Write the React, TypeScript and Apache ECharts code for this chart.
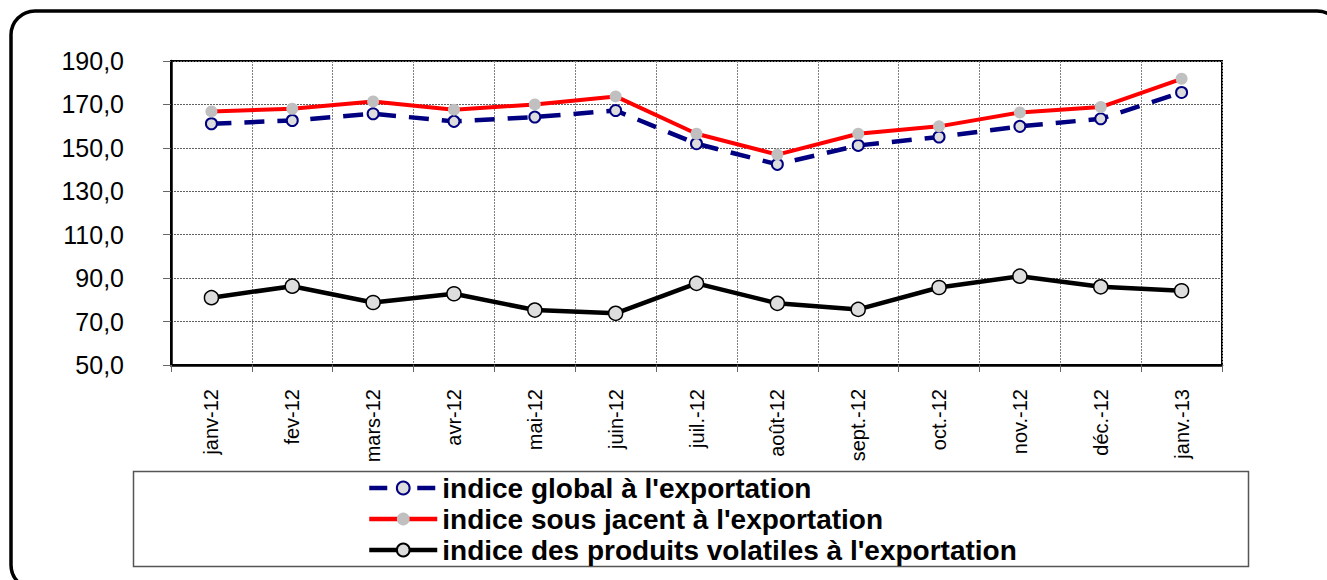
import React, { useEffect, useRef } from "react";
import * as echarts from "echarts";

const categories = [
  "janv-12", "fev-12", "mars-12", "avr-12", "mai-12", "juin-12", "juil.-12",
  "août-12", "sept.-12", "oct.-12", "nov.-12", "déc.-12", "janv.-13",
];

const indiceGlobal = [161.1, 162.6, 165.7, 162.2, 164.2, 167.2, 151.9, 142.4, 151.1, 155.0, 159.9, 163.4, 175.5];
const indiceSousJacent = [166.8, 168.0, 171.4, 167.6, 170.0, 173.7, 156.5, 146.9, 156.5, 159.9, 166.3, 168.8, 181.8];
const indiceVolatiles = [81.0, 86.3, 78.8, 82.8, 75.3, 73.8, 87.6, 78.4, 75.6, 85.7, 90.9, 86.0, 84.2];

const seriesNames = [
  "indice global à l'exportation",
  "indice sous jacent à l'exportation",
  "indice des produits volatiles à l'exportation",
];

const FONT = "'Liberation Sans', Arial, sans-serif";

export default function App() {
  const ref = useRef<HTMLDivElement>(null);

  useEffect(() => {
    if (!ref.current) return;
    const chart = echarts.init(ref.current, null, { renderer: "svg" });
    chart.setOption({
      animation: false,
      backgroundColor: "#ffffff",
      grid: {
        left: 171,
        top: 61,
        width: 1051,
        height: 304,
        show: true,
        borderColor: "#000000",
        borderWidth: 2,
        containLabel: false,
      },
      graphic: [
        {
          type: "rect",
          shape: { x: 11, y: 11, width: 1330, height: 578, r: 24 },
          style: { fill: "none", stroke: "#000000", lineWidth: 3.5 },
          silent: true,
          z: 0,
        },
        {
          type: "rect",
          shape: { x: 133.5, y: 471.5, width: 1115, height: 95 },
          style: { fill: "none", stroke: "#555555", lineWidth: 1.5 },
          silent: true,
          z: 0,
        },
      ],
      legend: {
        orient: "vertical",
        left: 367,
        top: 474,
        itemWidth: 68,
        itemHeight: 16,
        itemGap: 3,
        padding: 0,
        data: [
          { name: seriesNames[0], lineStyle: { width: 4.5, type: [18, 30] } },
          { name: seriesNames[1], lineStyle: { width: 4.5 } },
          { name: seriesNames[2], lineStyle: { width: 4.5 } },
        ],
        textStyle: {
          fontFamily: FONT,
          fontSize: 28,
          fontWeight: "bold",
          color: "#000000",
          lineHeight: 25,
        },
      },
      xAxis: {
        type: "category",
        data: categories,
        boundaryGap: true,
        axisLine: { show: true, lineStyle: { color: "#000000", width: 2.5 } },
        axisTick: { show: true, length: 7, alignWithLabel: false, lineStyle: { color: "#666666", width: 1 } },
        splitLine: { show: true, interval: 0, lineStyle: { color: "#808080", type: [2, 1], width: 1 } },
        axisLabel: {
          interval: 0,
          rotate: 90,
          margin: 24,
          fontFamily: FONT,
          fontSize: 20,
          color: "#000000",
        },
      },
      yAxis: {
        type: "value",
        min: 50,
        max: 190,
        interval: 20,
        axisLine: { show: true, lineStyle: { color: "#000000", width: 2.5 } },
        axisTick: { show: true, length: 8, lineStyle: { color: "#666666", width: 1 } },
        splitLine: { show: true, lineStyle: { color: "#606060", type: [2, 1], width: 1 } },
        axisLabel: {
          margin: 47,
          fontFamily: FONT,
          fontSize: 25,
          color: "#000000",
          formatter: (v: number) => v.toFixed(1).replace(".", ","),
        },
      },
      series: [
        {
          name: seriesNames[2],
          type: "line",
          data: indiceVolatiles,
          symbol: "circle",
          symbolSize: 14,
          lineStyle: { color: "#000000", width: 4.5 },
          itemStyle: { color: "#dddddd", borderColor: "#000000", borderWidth: 1.5 },
          z: 2,
        },
        {
          name: seriesNames[0],
          type: "line",
          data: indiceGlobal,
          symbol: "circle",
          symbolSize: 11,
          lineStyle: { color: "#000080", width: 4.5, type: [20, 13] },
          itemStyle: { color: "#dddddd", borderColor: "#000080", borderWidth: 2 },
          z: 3,
        },
        {
          name: seriesNames[1],
          type: "line",
          data: indiceSousJacent,
          symbol: "circle",
          symbolSize: 12,
          lineStyle: { color: "#ff0000", width: 4 },
          itemStyle: { color: "#c0c0c0", borderWidth: 0 },
          z: 4,
        },
      ],
    });
    return () => chart.dispose();
  }, []);

  return (
    <div
      ref={ref}
      style={{ position: "fixed", left: 0, top: 0, width: 1327, height: 580 }}
    />
  );
}
